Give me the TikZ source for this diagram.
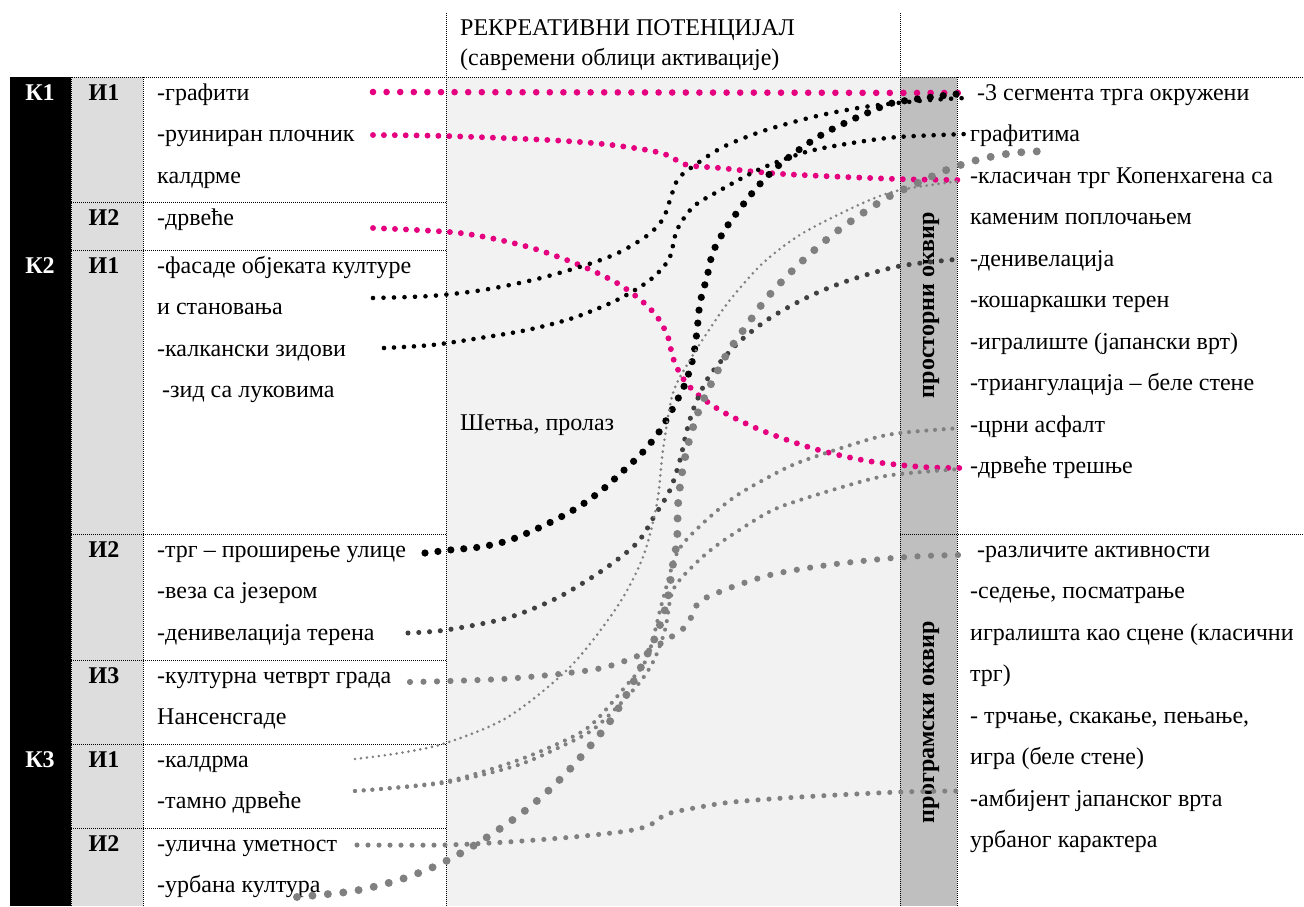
\documentclass[tikz,border=0pt]{standalone}
\usepackage{fontspec}
\setmainfont{Liberation Serif}
\definecolor{mag}{RGB}{228,0,127}
\definecolor{dgray}{RGB}{64,64,64}
\definecolor{mgray}{RGB}{128,128,128}
\definecolor{colbg}{RGB}{221,221,221}
\definecolor{midbg}{RGB}{242,242,242}
\definecolor{bandbg}{RGB}{191,191,191}
\begin{document}
\begin{tikzpicture}[x=1pt,y=-1pt,
  txt/.style={anchor=base west, inner sep=0pt, font=\fontsize{24}{28}\selectfont},
  klbl/.style={anchor=base, inner sep=0pt, text=white, font=\fontsize{24}{28}\selectfont\bfseries},
  ilbl/.style={anchor=base, inner sep=0pt, font=\fontsize{24}{28}\selectfont\bfseries},
  vlbl/.style={rotate=90, inner sep=0pt, font=\fontsize{24}{28}\selectfont\bfseries},
  grid/.style={line width=0.8pt, dash pattern=on 0.8pt off 1.2pt, black},
  dots/.style n args={3}{draw=#1, line width=#2, dash pattern=on 0pt off #3, line cap=round}
]
\useasboundingbox (0,0) rectangle (1304,906);
% backgrounds
\fill[black] (10,77) rectangle (71,906);
\fill[colbg] (71,77) rectangle (143,906);
\fill[midbg] (446,77) rectangle (900,906);
\fill[bandbg] (900,77) rectangle (957,906);
% grid lines
\draw[grid] (10,77) -- (1304,77);
\draw[grid] (446,13) -- (446,906);
\draw[grid] (900,13) -- (900,906);
\draw[grid] (957,77) -- (957,906);
\draw[grid] (71,77) -- (71,906);
\draw[grid] (143,77) -- (143,906);
\foreach \yy in {202,250,534,660,744,828} \draw[grid] (71,\yy) -- (446,\yy);
\draw[grid] (900,534) -- (1304,534);
% header
\node[txt] (h1) at (460,35) {РЕКРЕАТИВНИ ПОТЕНЦИЈАЛ};
\node[txt] (h2) at (460,65) {(савремени облици активације)};
\node[txt] (walk) at (460,430) {Шетња, пролаз};
% K labels
\node[klbl] (k1) at (40,100) {К1};
\node[klbl] (k2) at (40,273) {К2};
\node[klbl] (k3) at (40,767) {К3};
% I labels
\node[ilbl] (i1a) at (104,100) {И1};
\node[ilbl] (i2a) at (104,225) {И2};
\node[ilbl] (i1b) at (104,273) {И1};
\node[ilbl] (i2b) at (104,557) {И2};
\node[ilbl] (i3b) at (104,683) {И3};
\node[ilbl] (i1c) at (104,767) {И1};
\node[ilbl] (i2c) at (104,851) {И2};
% left texts
\node[txt] (l1) at (157,100) {-графити};
\node[txt] (l2) at (157,141.5) {-руиниран плочник};
\node[txt] (l3) at (157,183) {калдрме};
\node[txt] (l4) at (157,225) {-дрвеће};
\node[txt] (l5) at (157,273) {-фасаде објеката културе};
\node[txt] (l6) at (157,314.5) {и становања};
\node[txt] (l7) at (157,356) {-калкански зидови};
\node[txt] (l8) at (162,397.5) {-зид са луковима};
\node[txt] (l9) at (157,557) {-трг – проширење улице};
\node[txt] (l10) at (157,598.5) {-веза са језером};
\node[txt] (l11) at (157,640) {-денивелација терена};
\node[txt] (l12) at (157,683) {-културна четврт града};
\node[txt] (l13) at (157,724.5) {Нансенсгаде};
\node[txt] (l14) at (157,767) {-калдрма};
\node[txt] (l15) at (157,808.5) {-тамно дрвеће};
\node[txt] (l16) at (157,851) {-улична уметност};
\node[txt] (l17) at (157,892.5) {-урбана култура};
% right texts
\node[txt] (r1) at (977,100) {-3 сегмента трга окружени};
\node[txt] (r2) at (970,141.5) {графитима};
\node[txt] (r3) at (970,183) {-класичан трг Копенхагена са};
\node[txt] (r4) at (970,224.5) {каменим поплочањем};
\node[txt] (r5) at (970,266) {-денивелација};
\node[txt] (r6) at (970,307.5) {-кошаркашки терен};
\node[txt] (r7) at (970,349) {-игралиште (јапански врт)};
\node[txt] (r8) at (970,390.5) {-триангулација – беле стене};
\node[txt] (r9) at (970,432) {-црни асфалт};
\node[txt] (r10) at (970,473.5) {-дрвеће трешње};
\node[txt] (r11) at (977,557) {-различите активности};
\node[txt] (r12) at (970,598.5) {-седење, посматрање};
\node[txt] (r13) at (970,640) {игралишта као сцене (класични};
\node[txt] (r14) at (970,681.5) {трг)};
\node[txt] (r15) at (970,723) {- трчање, скакање, пењање,};
\node[txt] (r16) at (970,764.5) {игра (беле стене)};
\node[txt] (r17) at (970,806) {-амбијент јапанског врта};
\node[txt] (r18) at (970,847.5) {урбаног карактера};
% vertical labels
\node[vlbl] (v1) at (931,305) {просторни оквир};
\node[vlbl] (v2) at (931,722) {програмски оквир};
% connector end points
\coordinate (m1s) at (373,92);  \coordinate (m1e) at (965,93);
\coordinate (m2s) at (373,135); \coordinate (m2e) at (962,180);
\coordinate (m3s) at (373,228); \coordinate (m3e) at (965,468);
\coordinate (b1s) at (373,298); \coordinate (b1e) at (966,98);
\coordinate (b2s) at (384,348); \coordinate (b2e) at (966,134);
\coordinate (b3s) at (425,553); \coordinate (b3e) at (965,93);
\coordinate (d1s) at (408,633); \coordinate (d1e) at (960,259);
\coordinate (g1s) at (410,682); \coordinate (g1e) at (960,555);
\coordinate (g2s) at (355,759); \coordinate (g2e) at (960,181);
\coordinate (g3s) at (355,791); \coordinate (g3e) at (960,428);
\coordinate (g4e) at (960,469);
\coordinate (g5s) at (357,845); \coordinate (g5e) at (960,791);
\coordinate (g6s) at (297,897); \coordinate (g6e) at (1046,151);
% connectors
\draw[dots={mag}{6.6pt}{13.6pt}] (m1s) -- (m1e);
\draw[dots={mag}{5.9pt}{10.9pt}] plot[smooth, tension=0.5] coordinates {(m2s) (446,136) (548,140) (603,144) (647,150) (667,155) (687,165) (720,168) (783,174) (897,179) (m2e)};
\draw[dots={mag}{5.9pt}{11pt}] plot[smooth, tension=0.5] coordinates {(m3s) (460,233) (525,246) (577,264) (617,283) (643,302) (658,318) (668,337) (673,358) (682,377) (697,394) (723,412) (763,431) (815,449) (868,461) (923,467) (m3e)};
\draw[dots={black}{4.6pt}{10.5pt}] plot[smooth, tension=0.5] coordinates {(b1s) (430,296) (483,290) (537,279) (589,264) (620,252) (648,235) (663,219) (670,200) (678,179) (695,165) (723,147) (763,131) (817,116) (871,106) (930,100) (b1e)};
\draw[dots={black}{4.6pt}{10pt}] plot[smooth, tension=0.5] coordinates {(b2s) (432,345) (480,338) (527,330) (573,318) (617,300) (650,280) (669,259) (677,230) (693,207) (717,192) (760,169) (806,152) (852,143) (898,137) (b2e)};
\draw[dots={black}{7.2pt}{13pt}] plot[smooth, tension=0.5] coordinates {(b3s) (450,550) (480,547) (507,541) (532,531) (557,519) (580,506) (602,490) (622,472) (642,453) (659,432) (673,408) (685,384) (693,358) (697,331) (700,303) (707,277) (713,252) (726,228) (742,206) (759,185) (778,166) (800,149) (823,134) (847,122) (872,111) (897,102) (b3e)};
\draw[dots={dgray}{5.1pt}{10.8pt}] plot[smooth, tension=0.5] coordinates {(d1s) (446,630) (507,618) (557,598) (603,570) (637,543) (655,515) (670,490) (680,460) (687,430) (695,405) (710,375) (738,343) (770,318) (810,296) (850,280) (900,266) (d1e)};
\draw[dots={mgray}{6.2pt}{13.5pt}] plot[smooth, tension=0.5] coordinates {(g1s) (450,681) (517,678) (597,669) (640,655) (663,642) (686,626) (698,603) (710,596) (735,586) (774,574) (828,565) (882,559) (923,556) (g1e)};
\draw[dots={mgray}{2.9pt}{6pt}] plot[smooth, tension=0.5] coordinates {(g2s) (400,753) (446,743) (508,717) (570,667) (617,607) (643,557) (657,503) (663,450) (673,393) (690,360) (707,333) (730,300) (763,263) (803,233) (863,203) (900,190) (g2e)};
\draw[dots={mgray}{4.1pt}{8.7pt}] plot[smooth, tension=0.5] coordinates {(g3s) (443,782) (510,763) (555,745) (590,726) (625,687) (647,658) (662,603) (677,553) (700,526) (733,498) (767,478) (800,462) (867,440) (900,433) (g3e)};
\draw[dots={mgray}{4.1pt}{8.7pt}] plot[smooth, tension=0.5] coordinates {(g3s) (443,783) (515,766) (560,747) (595,728) (635,688) (653,662) (665,630) (673,590) (695,564) (720,543) (767,513) (800,500) (867,480) (900,474) (g4e)};
\draw[dots={mgray}{5.1pt}{11pt}] plot[smooth, tension=0.5] coordinates {(g5s) (443,845) (507,842) (573,837) (627,831) (650,825) (667,814) (700,807) (733,802) (800,797) (900,792) (g5e)};
\draw[dots={mgray}{8pt}{15.5pt}] plot[smooth, tension=0.5] coordinates {(g6s) (347,892) (377,886) (408,877) (440,864) (468,849) (495,832) (522,813) (547,792) (570,769) (591,745) (611,720) (628,692) (643,663) (657,633) (667,602) (672,570) (677,540) (678,505) (682,473) (689,441) (699,410) (713,380) (728,352) (747,325) (766,299) (788,275) (811,253) (836,232) (863,213) (890,196) (920,182) (949,169) (981,159) (1013,153) (g6e)};
\end{tikzpicture}
\end{document}
